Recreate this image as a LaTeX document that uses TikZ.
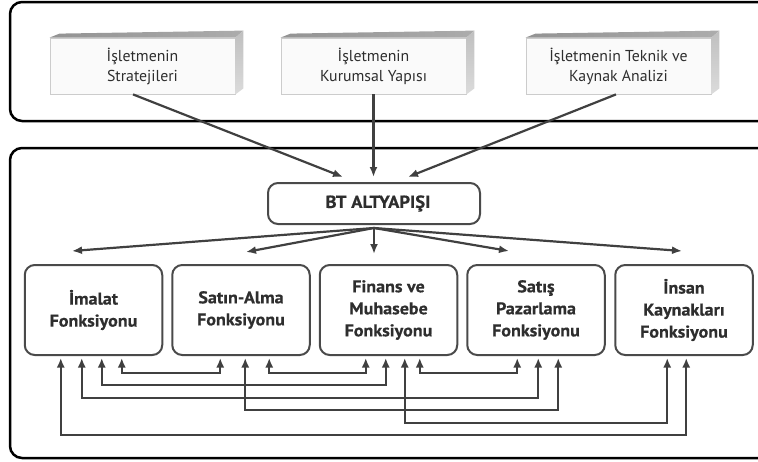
\documentclass[tikz,border=0pt]{standalone}
\usepackage{fontspec}
\setmainfont{PT Sans}
\newfontfamily\topfont{PT Sans}
\newfontfamily\boldfont[FakeStretch=1.06,FakeBold=0.6]{PT Sans Bold}
\usetikzlibrary{arrows.meta,calc}
\definecolor{txt}{HTML}{2E2E2E}
\definecolor{bd}{HTML}{4A4A4A}
\definecolor{ln}{HTML}{404040}
\begin{document}
\begin{tikzpicture}[x=1pt,y=-1pt,
  panel/.style={draw=black,line width=2.5pt,rounded corners=12pt},
  topbox/.style={draw=gray!40,fill=gray!4,line width=0.8pt,minimum width=185pt,minimum height=56pt,
    align=center,font=\topfont\fontsize{15.8}{20}\selectfont,text=txt,inner sep=0pt},
  funcbox/.style={draw=bd,line width=2pt,rounded corners=10pt,minimum width=137.5pt,minimum height=90pt,
    align=center,font=\boldfont\fontsize{17}{22}\selectfont,text=txt,inner sep=0pt},
  btbox/.style={draw=bd,line width=2pt,rounded corners=10pt,minimum width=212pt,minimum height=41pt,
    font=\boldfont\fontsize{17.5}{18}\selectfont,text=txt,inner sep=0pt},
  topface/.style={left color=gray!85,right color=gray!65,draw=none},
  sideface/.style={top color=gray!50,bottom color=gray!28,draw=none},
  arr/.style={draw=ln,line width=2.2pt,-{Latex[length=10pt,width=8pt]}},
  dlink/.style={draw=ln,line width=2.2pt,{Latex[length=9.5pt,width=8pt]}-{Latex[length=9.5pt,width=8pt]}},
]
\useasboundingbox (0,0) rectangle (758,461);
\clip (0,0) rectangle (758,461);
% panels
\draw[panel] (10,2) rectangle (775,121);
\draw[panel] (10,148) rectangle (775,458);
% top 3D boxes
\node[topbox] (t1) at (142.5,66) {İşletmenin\\Stratejileri};
\node[topbox] (t2) at (373.5,66) {İşletmenin\\Kurumsal Yapısı};
\node[topbox] (t3) at (618.5,66) {İşletmenin Teknik ve\\Kaynak Analizi};
\foreach \b in {t1,t2,t3}{
  \path[topface] (\b.north west) -- ++(10,-4) -- ([xshift=8pt,yshift=7pt]\b.north east) -- (\b.north east) -- cycle;
  \path[sideface] (\b.north east) -- ([xshift=8pt,yshift=7pt]\b.north east) -- ([xshift=8pt,yshift=6pt]\b.south east) -- (\b.south east) -- cycle;
}
% BT node
\node[btbox] (bt) at (374,203.5) {\hspace*{8pt}BT ALTYAPIŞI};
% function boxes
\node[funcbox] (A) at (93.5,310) {İmalat\\Fonksiyonu};
\node[funcbox] (B) at (241,310) {Satın-Alma\\Fonksiyonu};
\node[funcbox] (C) at (388.5,310) {Finans ve\\Muhasebe\\Fonksiyonu};
\node[funcbox] (D) at (536,310) {Satış\\Pazarlama\\Fonksiyonu};
\node[funcbox] (E) at (684,310) {İnsan\\Kaynakları\\Fonksiyonu};
% arrows into BT
\draw[arr] ([xshift=-9.5pt]t1.south) -- ([xshift=-31pt,yshift=5pt]bt.north);
\draw[arr] (t2.south) -- ([xshift=-0.5pt,yshift=5pt]bt.north);
\draw[arr] ([xshift=-2.5pt]t3.south) -- ([xshift=34pt,yshift=5pt]bt.north);
% arrows out of BT
\draw[arr] ([yshift=-3pt]bt.south) -- ([xshift=-21.5pt,yshift=13pt]A.north);
\draw[arr] ([yshift=-3pt]bt.south) -- ([xshift=5pt,yshift=12pt]B.north);
\draw[arr] ([yshift=-3pt]bt.south) -- ([xshift=-14.5pt,yshift=10pt]C.north);
\draw[arr] ([yshift=-3pt]bt.south) -- ([xshift=-27pt,yshift=13pt]D.north);
\draw[arr] ([yshift=-3pt]bt.south) -- ([xshift=-2pt,yshift=13pt]E.north);
% links between functions
\newcommand\funclink[5]{%
  \draw[dlink] ([xshift=#2pt,yshift=-2pt]#1.south west) -- ++(0,{#5-357}) -| ([xshift=#4pt,yshift=-2pt]#3.south west);}
\funclink{A}{98}{B}{49}{372}
\funclink{A}{78}{C}{67}{384}
\funclink{A}{58}{D}{72}{397}
\funclink{A}{37}{E}{72}{434}
\funclink{B}{98}{C}{47}{372}
\funclink{B}{74}{D}{92}{409}
\funclink{C}{101}{D}{51}{372}
\funclink{C}{86}{E}{53}{422}
\end{tikzpicture}
\end{document}
